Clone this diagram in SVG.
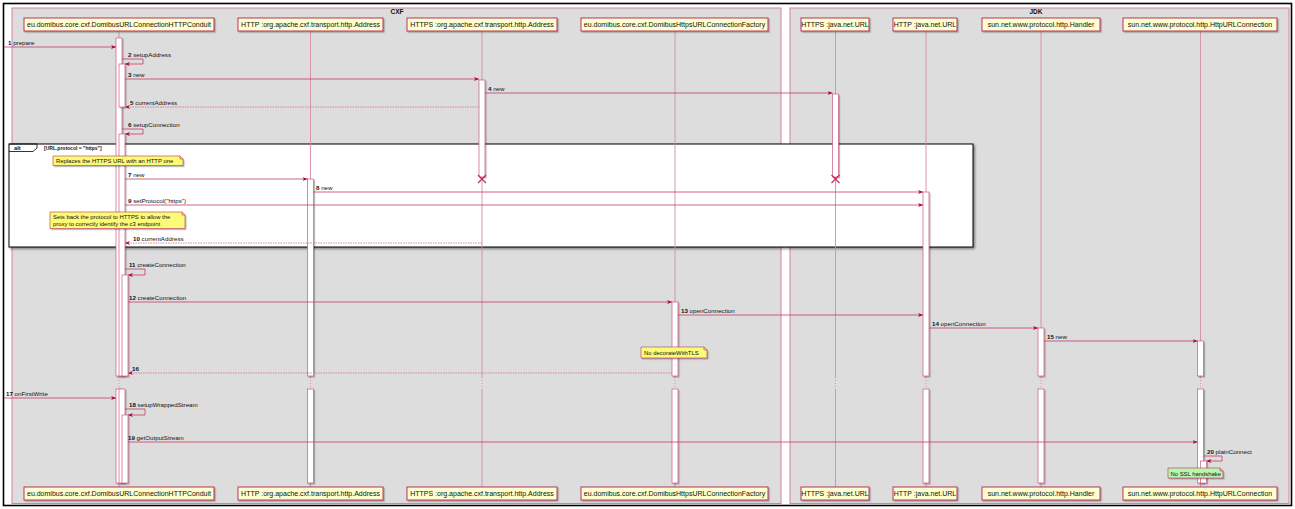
<svg xmlns="http://www.w3.org/2000/svg" width="1295" height="509" viewBox="0 0 1295 509">
<defs>
<style>
text { font-family: "Liberation Sans", Arial, sans-serif; fill: #111; }
.pname { font-size: 7px; text-anchor: middle; }
.msg { font-size: 6.2px; }
.nt { font-size: 5.9px; }
.num { font-weight: bold; }
.ttl { font-size: 6.5px; font-weight: bold; text-anchor: middle; }
.box { fill: #DDDDDD; stroke: #D4819C; stroke-width: 1; }
.part { fill: #FEFECE; stroke: #B8325F; stroke-width: 1; filter: url(#sh); }
.life { stroke: #D58CA6; stroke-width: 0.9; fill: none; }
.delay { stroke: #D58CA6; stroke-width: 0.9; stroke-dasharray: 1,2; fill: none; }
.act { fill: #FFFFFF; stroke: #C85A80; stroke-width: 0.7; filter: url(#sh); }
.arrow { stroke: #C83A6A; stroke-width: 0.8; fill: none; marker-end: url(#ah); }
.ret { stroke: #D46A8E; stroke-dasharray: 1.5,1; }
.note { fill: #FBFB77; stroke: #B8325F; stroke-width: 0.6; filter: url(#sh); }
.gnote { fill: #B9F5B0; stroke: #B8325F; stroke-width: 0.6; filter: url(#sh); }
.fold { fill: none; stroke: #B8325F; stroke-width: 0.6; }
.x { stroke: #C2295E; stroke-width: 1.1; }
</style>
<marker id="ah" viewBox="0 0 10 10" refX="10" refY="5" markerWidth="5" markerHeight="5" markerUnits="userSpaceOnUse" orient="auto">
<path d="M0,1 L10,5 L0,9 L3,5 z" fill="#A80036"/>
</marker>
<filter id="sh" x="-50%" y="-20%" width="200%" height="150%">
<feDropShadow dx="1.2" dy="1.2" stdDeviation="0.7" flood-color="#000" flood-opacity="0.3"/>
</filter>
<filter id="sh2" x="-5%" y="-5%" width="110%" height="115%">
<feDropShadow dx="1.5" dy="1.5" stdDeviation="0.8" flood-color="#000" flood-opacity="0.45"/>
</filter>
</defs>

<rect x="0" y="0" width="1295" height="509" fill="#FFFFFF"/>
<rect x="3.5" y="3.5" width="1288" height="502" fill="none" stroke="#000" stroke-width="1.6"/>

<g id="box-cxf">
<rect class="box" x="12" y="8" width="769" height="495.5"/>
<text class="ttl" x="397" y="14">CXF</text>
</g>
<g id="box-jdk">
<rect class="box" x="790" y="8" width="499" height="495.5"/>
<text class="ttl" x="1036" y="14">JDK</text>
</g>

<g id="alt-frame">
<rect x="9" y="144" width="964" height="103" fill="#FFFFFF" stroke="#000" stroke-width="1" filter="url(#sh2)"/>
<path d="M9,144 H37 V148 L33,151.5 H9" fill="none" stroke="#000" stroke-width="0.8"/>
<text x="14" y="149.8" style="font-size:5.8px;font-weight:bold">alt</text>
<text x="44" y="149.5" style="font-size:5px;font-weight:bold">[URL.protocol = "https"]</text>
</g>

<g id="p1">
<path class="life" d="M119,31 V377 M119,389 V487"/>
<path class="delay" d="M119,377 V389"/>
<rect class="act" x="116" y="38" width="6" height="338"/>
<rect class="act" x="119" y="64" width="6" height="43"/>
<rect class="act" x="119" y="134" width="6" height="242"/>
<rect class="act" x="122" y="275" width="6" height="101"/>
<rect class="act" x="116" y="389" width="6" height="94"/>
<rect class="act" x="119" y="389" width="6" height="94"/>
<rect class="act" x="122" y="415" width="6" height="68"/>
<rect class="part" x="24" y="18" width="190" height="13"/>
<text class="pname" x="119" y="27.3">eu.domibus.core.cxf.DomibusURLConnectionHTTPConduit</text>
<rect class="part" x="24" y="487" width="190" height="13"/>
<text class="pname" x="119" y="496.3">eu.domibus.core.cxf.DomibusURLConnectionHTTPConduit</text>
</g>

<g id="p2">
<path class="life" d="M310.5,31 V377 M310.5,389 V487"/>
<path class="delay" d="M310.5,377 V389"/>
<rect class="act" x="307.5" y="179" width="6" height="197"/>
<rect class="act" x="307.5" y="389" width="6" height="94"/>
<rect class="part" x="238" y="18" width="145" height="13"/>
<text class="pname" x="310.5" y="27.3">HTTP :org.apache.cxf.transport.http.Address</text>
<rect class="part" x="238" y="487" width="145" height="13"/>
<text class="pname" x="310.5" y="496.3">HTTP :org.apache.cxf.transport.http.Address</text>
</g>

<g id="p3">
<path class="life" d="M482,31 V377 M482,389 V487"/>
<path class="delay" d="M482,377 V389"/>
<rect class="act" x="479" y="80" width="6" height="97"/>
<path class="x" d="M478,175 L486,183 M486,175 L478,183"/>
<rect class="part" x="407" y="18" width="150" height="13"/>
<text class="pname" x="482" y="27.3">HTTPS :org.apache.cxf.transport.http.Address</text>
<rect class="part" x="407" y="487" width="150" height="13"/>
<text class="pname" x="482" y="496.3">HTTPS :org.apache.cxf.transport.http.Address</text>
</g>

<g id="p4">
<path class="life" d="M675,31 V377 M675,389 V487"/>
<path class="delay" d="M675,377 V389"/>
<rect class="act" x="672" y="302" width="6" height="74"/>
<rect class="act" x="672" y="389" width="6" height="94"/>
<rect class="part" x="581" y="18" width="187" height="13"/>
<text class="pname" x="674.5" y="27.3">eu.domibus.core.cxf.DomibusHttpsURLConnectionFactory</text>
<rect class="part" x="581" y="487" width="187" height="13"/>
<text class="pname" x="674.5" y="496.3">eu.domibus.core.cxf.DomibusHttpsURLConnectionFactory</text>
</g>

<g id="p5">
<path class="life" d="M835.5,31 V377 M835.5,389 V487"/>
<path class="delay" d="M835.5,377 V389"/>
<rect class="act" x="832.5" y="94" width="6" height="83"/>
<path class="x" d="M831.5,175 L839.5,183 M839.5,175 L831.5,183"/>
<rect class="part" x="801" y="18" width="68" height="13"/>
<text class="pname" x="835" y="27.3">HTTPS :java.net.URL</text>
<rect class="part" x="801" y="487" width="68" height="13"/>
<text class="pname" x="835" y="496.3">HTTPS :java.net.URL</text>
</g>

<g id="p6">
<path class="life" d="M926,31 V377 M926,389 V487"/>
<path class="delay" d="M926,377 V389"/>
<rect class="act" x="923" y="192" width="6" height="184"/>
<rect class="act" x="923" y="389" width="6" height="94"/>
<rect class="part" x="893" y="18" width="64" height="13"/>
<text class="pname" x="925" y="27.3">HTTP :java.net.URL</text>
<rect class="part" x="893" y="487" width="64" height="13"/>
<text class="pname" x="925" y="496.3">HTTP :java.net.URL</text>
</g>

<g id="p7">
<path class="life" d="M1041,31 V377 M1041,389 V487"/>
<path class="delay" d="M1041,377 V389"/>
<rect class="act" x="1038" y="328" width="6" height="48"/>
<rect class="act" x="1038" y="389" width="6" height="94"/>
<rect class="part" x="982" y="18" width="118" height="13"/>
<text class="pname" x="1041" y="27.3">sun.net.www.protocol.http.Handler</text>
<rect class="part" x="982" y="487" width="118" height="13"/>
<text class="pname" x="1041" y="496.3">sun.net.www.protocol.http.Handler</text>
</g>

<g id="p8">
<path class="life" d="M1200.5,31 V377 M1200.5,389 V487"/>
<path class="delay" d="M1200.5,377 V389"/>
<rect class="act" x="1197.5" y="341" width="6" height="35"/>
<rect class="act" x="1197.5" y="389" width="6" height="94"/>
<rect class="act" x="1200.5" y="461" width="6" height="22"/>
<rect class="part" x="1123" y="18" width="154" height="13"/>
<text class="pname" x="1200" y="27.3">sun.net.www.protocol.http.HttpURLConnection</text>
<rect class="part" x="1123" y="487" width="154" height="13"/>
<text class="pname" x="1200" y="496.3">sun.net.www.protocol.http.HttpURLConnection</text>
</g>

<g id="connectors">
<line class="arrow" x1="4" y1="47" x2="116" y2="47"/>
<path class="arrow" d="M122,59 H143 V64 H125"/>
<line class="arrow" x1="125" y1="79" x2="479" y2="79"/>
<line class="arrow" x1="485" y1="93" x2="832.5" y2="93"/>
<line class="arrow ret" x1="479" y1="107" x2="125" y2="107"/>
<path class="arrow" d="M122,129 H143 V134 H125"/>
<line class="arrow" x1="125" y1="179" x2="307.5" y2="179"/>
<line class="arrow" x1="313.5" y1="192" x2="923" y2="192"/>
<line class="arrow" x1="125" y1="205" x2="923" y2="205"/>
<line class="arrow ret" x1="482" y1="243" x2="125" y2="243"/>
<path class="arrow" d="M125,269 H145 V275 H128"/>
<line class="arrow" x1="128" y1="302" x2="672" y2="302"/>
<line class="arrow" x1="678" y1="315" x2="923" y2="315"/>
<line class="arrow" x1="929" y1="328" x2="1038" y2="328"/>
<line class="arrow" x1="1044" y1="341" x2="1197.5" y2="341"/>
<line class="arrow ret" x1="672" y1="373" x2="128" y2="373"/>
<line class="arrow" x1="4" y1="398" x2="116" y2="398"/>
<path class="arrow" d="M125,409 H145 V415 H128"/>
<line class="arrow" x1="128" y1="442" x2="1197.5" y2="442"/>
<path class="arrow" d="M1203.5,456 H1222 V461 H1206.5"/>

<text class="msg" x="8" y="45"><tspan class="num">1</tspan> prepare</text>
<text class="msg" x="128" y="57"><tspan class="num">2</tspan> setupAddress</text>
<text class="msg" x="128" y="77"><tspan class="num">3</tspan> new</text>
<text class="msg" x="488" y="91"><tspan class="num">4</tspan> new</text>
<text class="msg" x="130" y="105"><tspan class="num">5</tspan> currentAddress</text>
<text class="msg" x="128" y="127"><tspan class="num">6</tspan> setupConnection</text>
<text class="msg" x="128" y="177"><tspan class="num">7</tspan> new</text>
<text class="msg" x="316" y="190"><tspan class="num">8</tspan> new</text>
<text class="msg" x="128" y="203"><tspan class="num">9</tspan> setProtocol("https")</text>
<text class="msg" x="133" y="241"><tspan class="num">10</tspan> currentAddress</text>
<text class="msg" x="129" y="267"><tspan class="num">11</tspan> createConnection</text>
<text class="msg" x="129" y="300"><tspan class="num">12</tspan> createConnection</text>
<text class="msg" x="681" y="313"><tspan class="num">13</tspan> openConnection</text>
<text class="msg" x="932" y="326"><tspan class="num">14</tspan> openConnection</text>
<text class="msg" x="1047" y="339"><tspan class="num">15</tspan> new</text>
<text class="msg" x="132" y="371"><tspan class="num">16</tspan></text>
<text class="msg" x="6" y="396"><tspan class="num">17</tspan> onFirstWrite</text>
<text class="msg" x="129" y="407"><tspan class="num">18</tspan> setupWrappedStream</text>
<text class="msg" x="128" y="440"><tspan class="num">19</tspan> getOutputStream</text>
<text class="msg" x="1207" y="454"><tspan class="num">20</tspan> plainConnect</text>
</g>

<g id="note-replaces">
<path class="note" d="M53,156 H180 L183,159 V165.5 H53 Z"/>
<path class="fold" d="M180,156 V159 H183"/>
<text class="nt" x="56" y="163">Replaces the HTTPS URL with an HTTP one</text>
</g>
<g id="note-setsback">
<path class="note" d="M50,212 H182 L185,215 V228.5 H50 Z"/>
<path class="fold" d="M182,212 V215 H185"/>
<text class="nt" x="53" y="218.8">Sets back the protocol to HTTPS to allow the</text>
<text class="nt" x="53" y="225.6">proxy to correctly identify the c3 endpoint</text>
</g>
<g id="note-tls">
<path class="note" d="M641,347 H704 L707,350 V358 H641 Z"/>
<path class="fold" d="M704,347 V350 H707"/>
<text class="nt" x="644" y="355">No decorateWithTLS</text>
</g>
<g id="note-ssl">
<path class="gnote" d="M1168,468 H1220 L1223,471 V478 H1168 Z"/>
<path class="fold" d="M1220,468 V471 H1223"/>
<text class="nt" x="1170.5" y="475.5">No SSL handshake</text>
</g>
</svg>
